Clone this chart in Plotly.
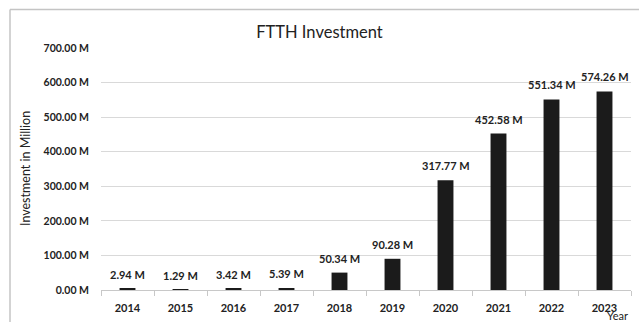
import plotly.graph_objects as go

years = ["2014", "2015", "2016", "2017", "2018", "2019", "2020", "2021", "2022", "2023"]
investment = [2.94, 1.29, 3.42, 5.39, 50.34, 90.28, 317.77, 452.58, 551.34, 574.26]
y_ticks = [0, 100, 200, 300, 400, 500, 600, 700]
y_tick_labels = [f"{v:.2f} M" for v in y_ticks]
bar_labels = [f"{v:.2f} M" for v in investment]

FONT = "Lato, 'Open Sans', sans-serif"
TEXT = "#222222"

fig = go.Figure(
    go.Bar(
        x=years,
        y=investment,
        marker=dict(color="#1b1b1b", line=dict(width=0)),
        width=0.3,
        hoverinfo="x+y",
    )
)

# value labels sitting above each bar (category axis positions are 0..n-1)
label_annotations = [
    dict(
        x=i, y=val, xref="x", yref="y",
        text=lbl,
        showarrow=False,
        xanchor="center", yanchor="bottom",
        yshift=6,
        font=dict(family=FONT, size=11, color=TEXT, weight="bold"),
    )
    for i, (val, lbl) in enumerate(zip(investment, bar_labels))
]

fig.update_layout(
    width=639,
    height=322,
    margin=dict(l=101, r=8, t=48, b=32),
    paper_bgcolor="white",
    plot_bgcolor="white",
    showlegend=False,
    title=dict(
        text="FTTH Investment",
        x=0.5,
        xanchor="center",
        y=1 - 32 / 322,
        yanchor="middle",
        font=dict(family=FONT, size=16.5, color=TEXT),
    ),
    xaxis=dict(
        type="category",
        categoryorder="array",
        categoryarray=years,
        range=[-0.5, len(years) - 0.5],
        showgrid=False,
        showline=True,
        linecolor="#c8c8c8",
        linewidth=1,
        ticks="outside",
        tickson="boundaries",
        ticklen=5,
        tickcolor="#c8c8c8",
        ticklabelstandoff=8,
        tickangle=0,
        tickfont=dict(family=FONT, size=11, color=TEXT, weight="bold"),
        fixedrange=True,
    ),
    yaxis=dict(
        range=[0, 700],
        tickvals=y_ticks,
        ticktext=y_tick_labels,
        showgrid=True,
        gridcolor="#d9d9d9",
        gridwidth=1,
        zeroline=False,
        showline=False,
        ticks="",
        ticklabelstandoff=11,
        tickfont=dict(family=FONT, size=10.5, color=TEXT, weight="bold"),
        fixedrange=True,
    ),
    annotations=label_annotations + [
        dict(
            text="Investment in Million",
            xref="paper", yref="paper",
            x=-76 / 530, y=0.5,
            xanchor="center", yanchor="middle",
            textangle=-90,
            showarrow=False,
            font=dict(family=FONT, size=12.5, color=TEXT),
        ),
        dict(
            text="Year",
            xref="paper", yref="paper",
            x=(617 - 101) / 530, y=-(315 - 290) / 242,
            xanchor="center", yanchor="middle",
            showarrow=False,
            font=dict(family=FONT, size=11, color=TEXT),
        ),
    ],
    shapes=[
        # frame around the chart (left and top edges)
        dict(type="line", xref="paper", yref="paper",
             x0=-91 / 530, x1=1.02, y0=(290 - 9.5) / 242, y1=(290 - 9.5) / 242,
             line=dict(color="#c4c4c4", width=1.5)),
        dict(type="line", xref="paper", yref="paper",
             x0=-91 / 530, x1=-91 / 530, y0=(290 - 9.5) / 242, y1=-40 / 242,
             line=dict(color="#c4c4c4", width=1.5)),
    ],
)

fig.write_html("out.html")
